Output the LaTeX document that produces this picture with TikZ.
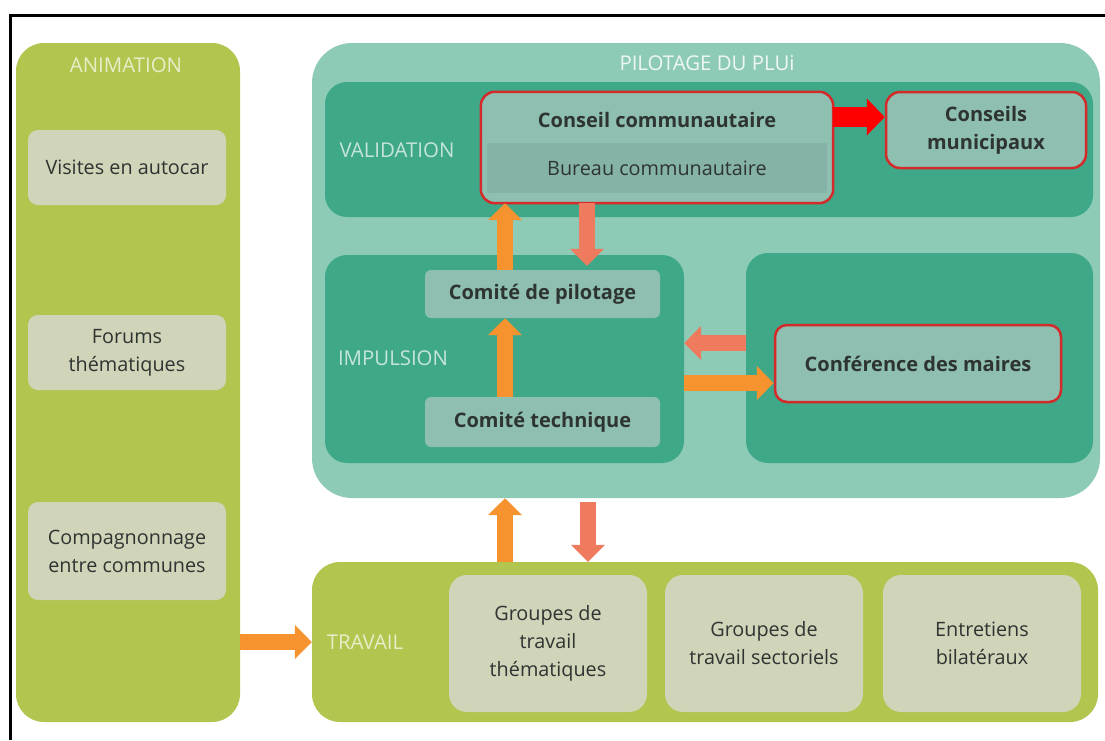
\documentclass[tikz,border=0pt]{standalone}
\usepackage{fontspec}
\setmainfont{Open Sans}
\usepackage{tikz}
\usetikzlibrary{arrows.meta,positioning,calc}
\usepackage{xcolor}

\definecolor{lime}{HTML}{B2C54E}
\definecolor{beige}{HTML}{D0D4B8}
\definecolor{tealpale}{HTML}{8DCBB6}
\definecolor{tealdark}{HTML}{3FA888}
\definecolor{tealbox}{HTML}{8EBFB1}
\definecolor{tealband}{HTML}{86B3A7}
\definecolor{redline}{HTML}{D42A2A}
\definecolor{orangearr}{HTML}{F7932F}
\definecolor{salmonarr}{HTML}{EF7B5E}
\definecolor{textgray}{HTML}{2E3432}

\tikzset{
  box/.style={inner sep=0pt, rounded corners=10pt, align=center, text=textgray},
  boldbox/.style={box, font=\fontsize{20}{28}\selectfont\bfseries},
  panel/.style={inner sep=0pt, rounded corners=22pt},
  capslabel/.style={inner sep=0pt, font=\fontsize{20.4}{24}\selectfont},
  oarrow/.style={line width=16pt, draw=orangearr, -{Triangle[width=33pt,length=17pt]}},
  sarrow/.style={line width=16pt, draw=salmonarr, -{Triangle[width=33pt,length=17pt]}},
  rarrow/.style={line width=20pt, draw=red, -{Triangle[width=36pt,length=18pt]}}
}

\begin{document}
\begin{tikzpicture}[x=1pt, y=-1pt, font=\fontsize{19.8}{28}\selectfont]
    \useasboundingbox (0,0) rectangle (1105,740);
    \fill[white] (0,0) rectangle (1105,740);

    % Frame
    \coordinate (fbot) at (10,740);
    \coordinate (fcorner) at (10,15);
    \coordinate (fright) at (1105,15);
    \draw[line width=3pt] (fbot) -- (fcorner) -- (fright);

    % Animation column
    \node[panel, rounded corners=28pt, fill=lime, minimum width=224pt, minimum height=679pt] (anim) at (128,382.5) {};
    \node[capslabel, text=lime!30] (animlbl) at (126,65) {ANIMATION};
    \node[box, fill=beige, minimum width=198pt, minimum height=75pt] (visites) at (127,167.5) {Visites en autocar};
    \node[box, fill=beige, minimum width=198pt, minimum height=75pt] (forums) at (127,352.5) {Forums\\thématiques};
    \node[box, fill=beige, minimum width=198pt, minimum height=98pt] (compag) at (127,551) {Compagnonnage\\entre communes};

    % Pilotage du PLUi
    \node[panel, rounded corners=40pt, fill=tealpale, minimum width=788pt, minimum height=455pt] (pilot) at (706,270.5) {};
    \node[capslabel, text=white!85!tealpale] (pilotlbl) at (707,63) {PILOTAGE DU PLUi};

    % Validation
    \node[panel, fill=tealdark, minimum width=768pt, minimum height=135pt] (valid) at (709,149.5) {};
    \node[capslabel, text=tealpale!50!white] (validlbl) at (397,150) {VALIDATION};
    \node[box, rounded corners=14pt, fill=tealbox, minimum width=352pt, minimum height=111pt] (conseil) at (657,147.5) {};
    \node[box, rounded corners=0pt, fill=tealband, minimum width=340pt, minimum height=50pt] (bureau) at (657,168) {Bureau communautaire};
    \draw[redline, line width=2.5pt, rounded corners=14pt] (conseil.south west) rectangle (conseil.north east);
    \node[boldbox] (conseiltxt) at (657,120) {Conseil communautaire};
    \node[boldbox, rounded corners=14pt, fill=tealbox, draw=redline, line width=2.5pt, minimum width=200pt, minimum height=76pt] (municip) at (986,130) {Conseils\\municipaux};

    % Impulsion
    \node[panel, fill=tealdark, minimum width=359pt, minimum height=208pt] (impul) at (504.5,359) {};
    \node[capslabel, text=tealpale!50!white] (impullbl) at (393,358) {IMPULSION};
    \node[boldbox, rounded corners=6pt, fill=tealbox, minimum width=235pt, minimum height=48pt] (copil) at (542.5,294) {Comité de pilotage};
    \node[boldbox, rounded corners=6pt, fill=tealbox, minimum width=235pt, minimum height=50pt] (cotech) at (542.5,422) {Comité technique};

    % Conference des maires
    \node[panel, fill=tealdark, minimum width=347pt, minimum height=210pt] (confc) at (919.5,358) {};
    \node[boldbox, rounded corners=12pt, fill=tealbox, draw=redline, line width=2.5pt, minimum width=286pt, minimum height=77pt] (conf) at (918,363.5) {Conférence des maires};

    % Travail
    \node[panel, rounded corners=28pt, fill=lime, minimum width=786pt, minimum height=160pt] (trav) at (705,642) {};
    \node[capslabel, text=lime!30] (travlbl) at (365,642) {TRAVAIL};
    \node[box, rounded corners=18pt, fill=beige, minimum width=198pt, minimum height=137pt] (gtt) at (548,643.5) {Groupes de\\travail\\thématiques};
    \node[box, rounded corners=18pt, fill=beige, minimum width=198pt, minimum height=137pt] (gts) at (764,643.5) {Groupes de\\travail sectoriels};
    \node[box, rounded corners=18pt, fill=beige, minimum width=198pt, minimum height=137pt] (ent) at (982,643.5) {Entretiens\\bilatéraux};

    % Arrows
    \coordinate (redend) at ([yshift=13pt]municip.west);
    \draw[rarrow] (conseil.east |- redend) -- (redend);
    \draw[oarrow] ([xshift=-37.5pt]cotech.north) -- ([xshift=-37.5pt]copil.south);
    \draw[oarrow] ([xshift=-37.5pt]copil.north) -- ([xshift=-37.5pt]copil.north |- conseil.south);
    \draw[sarrow, shorten >=4pt] ([xshift=-70pt]conseil.south) -- ([xshift=-70pt]conseil.south |- copil.north);
    \coordinate (leftend) at ([yshift=16pt]impul.east);
    \draw[sarrow] (confc.west |- leftend) -- (leftend);
    \coordinate (rightend) at ([yshift=-19.5pt]conf.west);
    \draw[oarrow] (impul.east |- rightend) -- (rightend);
    \draw[oarrow] ([xshift=-200pt]trav.north) -- ([xshift=-200pt]trav.north |- pilot.south);
    \draw[sarrow, shorten <=4pt] ([xshift=-118pt]pilot.south) -- ([xshift=-118pt]pilot.south |- trav.north);
    \draw[oarrow] (anim.east |- trav.west) -- (trav.west);
\end{tikzpicture}
\end{document}
